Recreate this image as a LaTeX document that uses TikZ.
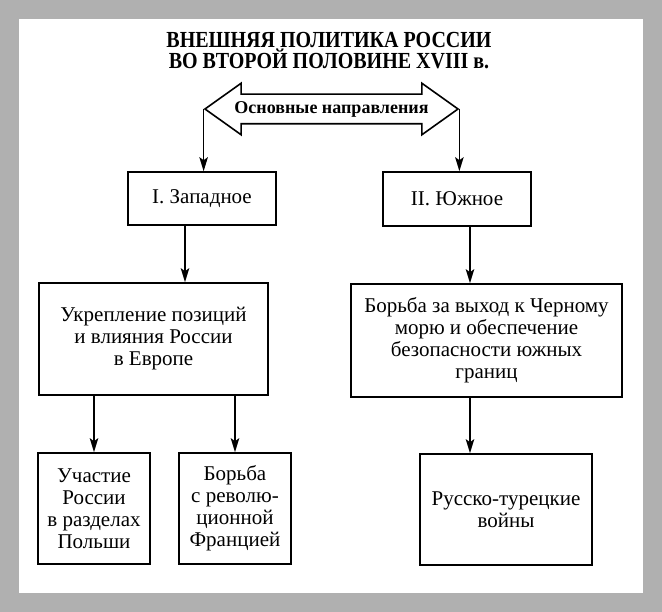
\documentclass[tikz,border=0pt]{standalone}
\usepackage{fontspec}
\setmainfont{Liberation Serif}
\usepackage{tikz}
\usetikzlibrary{shapes,arrows.meta}
\usetikzlibrary{positioning}
\definecolor{frame}{HTML}{B0B0B0}
\tikzstyle{arrow} = [line width=1.4pt,-{Stealth[length=14pt,width=8.5pt,inset=3pt]}]
\tikzstyle{block} = [
    rectangle, draw=black, line width=1.6pt, align=center, inner sep=0pt,
    font=\fontsize{21}{22}\selectfont]
\tikzstyle{banner} = [
    double arrow, draw=black, line width=1.6pt, double arrow tip angle=71,
    double arrow head extend=11pt, minimum height=253pt, inner xsep=0pt,
    inner ysep=0pt, text height=19pt, text depth=9pt,
    font=\bfseries\fontsize{18}{20}\selectfont]

\begin{document}
\begin{tikzpicture}[x=1pt,y=-1pt]
\fill [frame] (0,0) rectangle (662,612);
\fill [white] (19,19) rectangle (643,593);

\node (title) at (329,51) [align=center,
    font=\bfseries\fontsize{23}{21}\selectfont\addfontfeature{FakeStretch=0.87}] {
    ВНЕШНЯЯ ПОЛИТИКА РОССИИ \\
    ВО ВТОРОЙ ПОЛОВИНЕ XVIII в.
};

\node (dirs) at (331.5,109) [banner] {\makebox[180pt]{Основные направления}};

\node (west) at (202,198.5) [block, minimum width=148pt, minimum height=53pt] {I. Западное};
\node (south) at (457,199) [block, minimum width=148pt, minimum height=54pt] {II. Южное};

\node (wgoal) at (153.5,339) [block, minimum width=229pt, minimum height=112pt] {
    Укрепление позиций \\
    и влияния России \\
    в Европе
};
\node (sgoal) at (486.5,340.5) [block, minimum width=271pt, minimum height=113pt] {
    Борьба за выход к Черному \\
    морю и обеспечение \\
    безопасности южных \\
    границ
};

\node (poland) at (94,508.5) [block, minimum width=112pt, minimum height=111pt] {
    Участие \\
    России \\
    в разделах \\
    Польши
};
\node (france) at (235,508.5) [block, minimum width=112pt, minimum height=111pt] {
    Борьба \\
    с револю- \\
    ционной \\
    Францией
};
\node (wars) at (506,509.5) [block, minimum width=172pt, minimum height=111pt] {
    Русско-турецкие \\
    войны
};

\coordinate (wdown) at ([xshift=-17pt]west.south);
\coordinate (sdown) at ([xshift=13pt]south.south);
\coordinate (sgdown) at ([xshift=-16.5pt]sgoal.south);

\draw [arrow] (dirs.west) -- (dirs.west |- west.north);
\draw [arrow] (dirs.east) -- (dirs.east |- south.north);
\draw [arrow] (wdown) -- (wdown |- wgoal.north);
\draw [arrow] (sdown) -- (sdown |- sgoal.north);
\draw [arrow] (poland.north |- wgoal.south) -- (poland.north);
\draw [arrow] (france.north |- wgoal.south) -- (france.north);
\draw [arrow] (sgdown) -- (sgdown |- wars.north);
\end{tikzpicture}
\end{document}
